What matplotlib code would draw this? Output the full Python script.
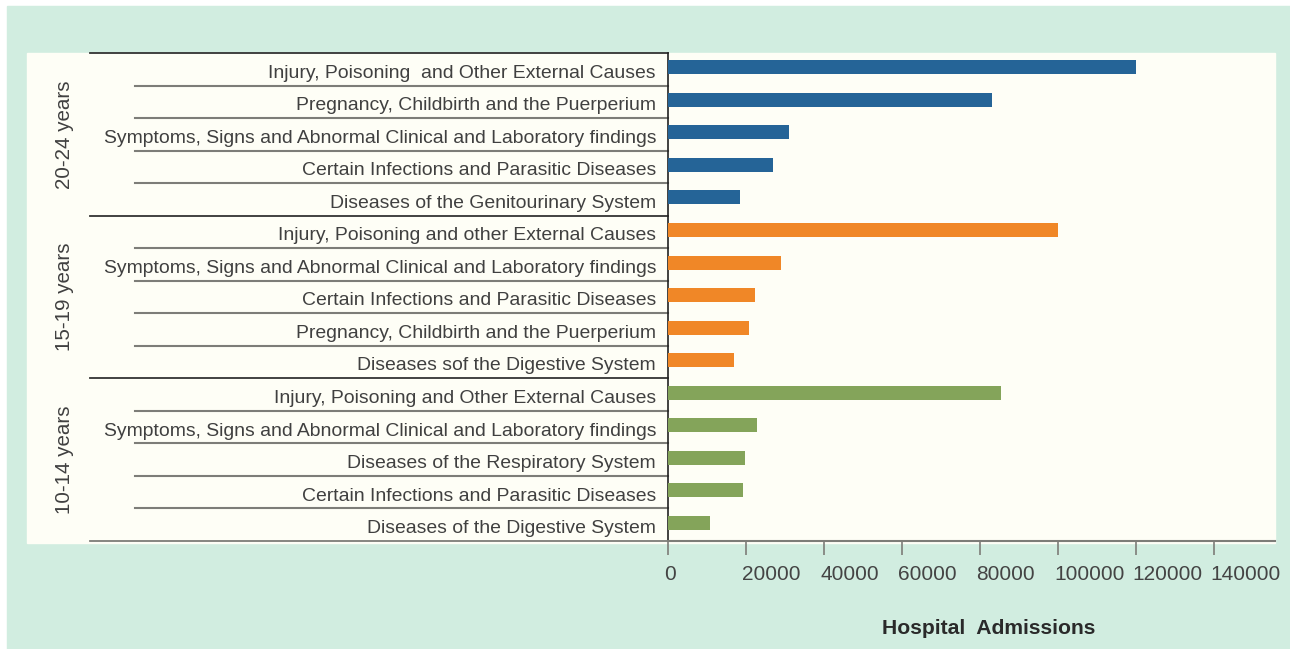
import matplotlib
matplotlib.use("Agg")
import matplotlib.pyplot as plt
import matplotlib.transforms as mtransforms
from matplotlib.patches import Rectangle

# donnees
groupes = ["20-24 years", "15-19 years", "10-14 years"]
causes_20_24 = ["Injury, Poisoning  and Other External Causes",
                "Pregnancy, Childbirth and the Puerperium",
                "Symptoms, Signs and Abnormal Clinical and Laboratory findings",
                "Certain Infections and Parasitic Diseases",
                "Diseases of the Genitourinary System"]
admissions_20_24 = [120000, 83000, 31000, 26800, 18500]
causes_15_19 = ["Injury, Poisoning and other External Causes",
                "Symptoms, Signs and Abnormal Clinical and Laboratory findings",
                "Certain Infections and Parasitic Diseases",
                "Pregnancy, Childbirth and the Puerperium",
                "Diseases sof the Digestive System"]
admissions_15_19 = [100000, 29000, 22200, 20700, 16800]
causes_10_14 = ["Injury, Poisoning and Other External Causes",
                "Symptoms, Signs and Abnormal Clinical and Laboratory findings",
                "Diseases of the Respiratory System",
                "Certain Infections and Parasitic Diseases",
                "Diseases of the Digestive System"]
admissions_10_14 = [85200, 22800, 19600, 19300, 10800]
couleurs = ["#256497", "#f08727", "#84a45a"]
graduations = [0, 20000, 40000, 60000, 80000, 100000, 120000, 140000]

W, H = 1290, 649
fig = plt.figure(figsize=(W / 100, H / 100), dpi=100, facecolor="white")
plt.rcParams["font.family"] = ["Liberation Sans", "DejaVu Sans"]

# fond vert et panneau clair
fig.patches.append(Rectangle((7 / W, 0), 1 - 7 / W, 1 - 6 / H,
                             transform=fig.transFigure, color="#d1ede0", zorder=0))
fig.patches.append(Rectangle((27 / W, (H - 543) / H), (1275 - 27) / W, (543 - 53) / H,
                             transform=fig.transFigure, color="#fefef6", zorder=0))

x0, x1, ytop, ybot = 668, 1275, 53, 541
ax = fig.add_axes([x0 / W, (H - ybot) / H, (x1 - x0) / W, (ybot - ytop) / H])
ax.set_facecolor("none")
ax.set_zorder(2)

listes = [(causes_20_24, admissions_20_24), (causes_15_19, admissions_15_19),
          (causes_10_14, admissions_10_14)]
largeur = x1 - x0
trans = ax.get_yaxis_transform()
gris = "#7d7d78"
texte = "#404040"

pos = 0
for g, (causes, valeurs) in enumerate(listes):
    debut = pos
    for cause, val in zip(causes, valeurs):
        ax.barh(pos - 0.06, val, height=0.43, color=couleurs[g], zorder=3)
        ax.text(-12 / largeur, pos + 0.12, cause, transform=trans, ha="right",
                va="center", fontsize=13.95, color=texte, clip_on=False)
        if pos - debut < 4:
            ax.plot([(135 - x0) / largeur, 0], [pos + 0.5, pos + 0.5], transform=trans,
                    color=gris, lw=1.5, clip_on=False)
        pos += 1
    ax.plot([(90 - x0) / largeur, 0], [pos - 0.5, pos - 0.5], transform=trans,
            color=gris if g == 2 else "#333333", lw=1.3, clip_on=False)
    ax.text((65 - x0) / largeur, (debut + pos - 1) / 2, groupes[g], transform=trans,
            rotation=90, ha="center", va="center", fontsize=14.8, color=texte)
ax.plot([(90 - x0) / largeur, 0], [-0.5, -0.5], transform=trans,
        color="#333333", lw=1.3, clip_on=False)

ax.set_ylim(pos - 0.5, -0.5)
ax.set_xlim(0, 155500)
ax.set_yticks([])
ax.set_xticks(graduations)
ax.set_xticklabels([str(v) for v in graduations])
ax.tick_params(axis="x", length=10, width=1.2, color=gris, labelsize=15,
               labelcolor="#444444", pad=7)
decalage = mtransforms.ScaledTranslation(-4 / 100, 0, fig.dpi_scale_trans)
for lab in ax.get_xticklabels():
    lab.set_horizontalalignment("left")
    lab.set_transform(lab.get_transform() + decalage)
for s in ["top", "right"]:
    ax.spines[s].set_visible(False)
ax.spines["left"].set_color("#222222")
ax.spines["left"].set_linewidth(1.2)
ax.spines["bottom"].set_color(gris)
ax.spines["bottom"].set_linewidth(1.5)

fig.text(989 / W, (H - 628) / H, "Hospital  Admissions", ha="center", va="center",
         fontsize=15.2, fontweight="bold", color="#2a2a2a")

fig.savefig("out.png", dpi=100, facecolor=fig.get_facecolor())
